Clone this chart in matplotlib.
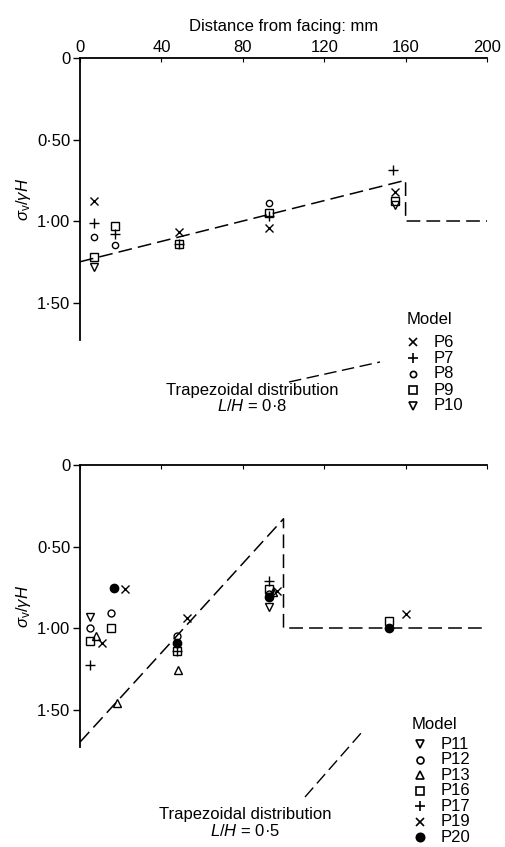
import matplotlib
matplotlib.use("Agg")
import matplotlib.pyplot as plt
from matplotlib.lines import Line2D

plt.rcParams['font.family'] = ['Liberation Sans', 'DejaVu Sans']
plt.rcParams['mathtext.fontset'] = 'custom'
plt.rcParams['mathtext.rm'] = 'Liberation Sans'
plt.rcParams['mathtext.it'] = 'Liberation Sans:italic'

# ---------------- data ----------------
x_ticks = [0, 40, 80, 120, 160, 200]
y_ticks = [0, 0.5, 1.0, 1.5]
y_ticklabels = ["0", "0·50", "1·00", "1·50"]

# Top panel (L/H = 0.8)
top_theory_x = [0, 160, 160, 200]
top_theory_y = [1.25, 0.75, 1.00, 1.00]
top_models = ["P6", "P7", "P8", "P9", "P10"]
top_x = {
    "P6": [7, 48.6, 93, 155],
    "P7": [7, 17, 48.6, 93, 154],
    "P8": [7, 17, 93],
    "P9": [7, 17, 48.6, 93, 155],
    "P10": [7, 155],
}
top_y = {
    "P6": [0.88, 1.07, 1.04, 0.82],
    "P7": [1.01, 1.08, 1.14, 0.97, 0.69],
    "P8": [1.10, 1.15, 0.89],
    "P9": [1.22, 1.03, 1.14, 0.95, 0.88],
    "P10": [1.28, 0.90],
}

# Bottom panel (L/H = 0.5)
bot_theory_x = [0, 100, 100, 200]
bot_theory_y = [1.70, 0.33, 1.00, 1.00]
bot_models = ["P11", "P12", "P13", "P16", "P17", "P19", "P20"]
bot_x = {
    "P11": [5, 93],
    "P12": [5, 15, 47.5, 93],
    "P13": [8, 18, 48, 95],
    "P16": [5, 15, 47.5, 93, 152],
    "P17": [5, 47.5, 93],
    "P19": [11, 22, 52.5, 97, 160],
    "P20": [16.5, 47.5, 93, 152],
}
bot_y = {
    "P11": [0.93, 0.87],
    "P12": [1.00, 0.91, 1.05, 0.79],
    "P13": [1.05, 1.46, 1.26, 0.78],
    "P16": [1.08, 1.00, 1.14, 0.76, 0.96],
    "P17": [1.23, 1.14, 0.71],
    "P19": [1.09, 0.76, 0.94, 0.77, 0.915],
    "P20": [0.755, 1.09, 0.81, 1.00],
}

style = {
    "P6": dict(marker='x', ms=5.5, mfc='none'),
    "P7": dict(marker='+', ms=7, mfc='none'),
    "P8": dict(marker='o', ms=4.5, mfc='none'),
    "P9": dict(marker='s', ms=5.5, mfc='none'),
    "P10": dict(marker='v', ms=6, mfc='none'),
    "P11": dict(marker='v', ms=6, mfc='none'),
    "P12": dict(marker='o', ms=5, mfc='none'),
    "P13": dict(marker='^', ms=6, mfc='none'),
    "P16": dict(marker='s', ms=5.5, mfc='none'),
    "P17": dict(marker='+', ms=7, mfc='none'),
    "P19": dict(marker='x', ms=5.5, mfc='none'),
    "P20": dict(marker='o', ms=6, mfc='black'),
}

FS = 12
W, H = 506, 847
fig = plt.figure(figsize=(W / 100, H / 100), dpi=100)

def fx(px):
    return px / W

def fy(py):
    return 1 - py / H

left, right = 80, 487
ax1 = fig.add_axes([fx(left), fy(340), fx(right - left), fy(58) - fy(340)])
ax2 = fig.add_axes([fx(left), fy(747), fx(right - left), fy(465) - fy(747)])

dash = (9, 4)
for ax, tx, ty in [(ax1, top_theory_x, top_theory_y), (ax2, bot_theory_x, bot_theory_y)]:
    ax.set_xlim(0, 200)
    ax.set_ylim(1.73, 0)
    ax.plot(tx, ty, color='black', lw=1.1, dashes=dash, clip_on=False)
    for s in ['right', 'bottom']:
        ax.spines[s].set_visible(False)
    for s in ['left', 'top']:
        ax.spines[s].set_linewidth(1.3)
    ax.xaxis.tick_top()
    ax.set_xticks(x_ticks)
    ax.set_yticks(y_ticks)
    ax.set_yticklabels(y_ticklabels)
    ax.tick_params(axis='x', direction='in', length=3, width=0.8, labelsize=FS, pad=2)
    ax.tick_params(axis='y', direction='out', length=5, width=1.0, labelsize=FS, pad=2)
    ax.set_ylabel(r'$\sigma_{\rm v}/\gamma H$', fontsize=FS, labelpad=3)

ax2.tick_params(axis='x', labeltop=False)
ax1.set_xlabel("Distance from facing: mm", fontsize=FS, labelpad=7)
ax1.xaxis.set_label_position('top')

for m in top_models:
    ax1.plot(top_x[m], top_y[m], ls='none', color='black', mew=1.0, clip_on=False, **style[m])
for m in bot_models:
    ax2.plot(bot_x[m], bot_y[m], ls='none', color='black', mew=1.0, clip_on=False, **style[m])

# Legends (hand placed, as in original)
def legend(models, x_title, y_title, x_mark, x_lab, y0, dy):
    fig.text(fx(x_title), fy(y_title), "Model", fontsize=FS, va='center', ha='left')
    for i, m in enumerate(models):
        yy = y0 + i * dy
        fig.add_artist(Line2D([fx(x_mark)], [fy(yy)], ls='none', color='black', mew=1.2,
                              **style[m]))
        fig.text(fx(x_lab), fy(yy), m, fontsize=FS, va='center', ha='left')

legend(top_models, 407, 319, 413, 434, 342, 16.0)
legend(bot_models, 412, 724, 420, 441, 744, 15.5)

# Trapezoidal distribution annotations
fig.text(fx(252), fy(390), "Trapezoidal distribution", fontsize=FS, ha='center', va='center')
fig.text(fx(252), fy(406), r"$L/H$ = 0·8", fontsize=FS, ha='center', va='center')
fig.add_artist(Line2D([fx(289), fx(380)], [fy(382), fy(362)], color='black', lw=1.0, dashes=dash))

fig.text(fx(245), fy(814), "Trapezoidal distribution", fontsize=FS, ha='center', va='center')
fig.text(fx(245), fy(831), r"$L/H$ = 0·5", fontsize=FS, ha='center', va='center')
fig.add_artist(Line2D([fx(305), fx(362)], [fy(797), fy(732)], color='black', lw=1.0, dashes=dash))

fig.savefig("out.png", dpi=100)
